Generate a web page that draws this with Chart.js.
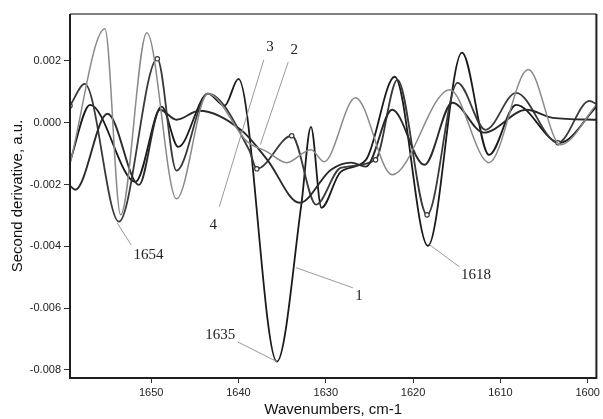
<!DOCTYPE html>
<html><head><meta charset="utf-8">
<script src="https://cdn.jsdelivr.net/npm/chart.js@4.4.0/dist/chart.umd.min.js"></script>
<style>html,body{margin:0;padding:0;background:#fff;}#wrap{width:603px;height:419px;}</style>
</head><body><div id="wrap"><canvas id="c" width="603" height="419"></canvas></div>
<script>
// Wavenumbers (cm-1) and second-derivative values
const wn1 = [1659.3, 1657.0, 1651.8, 1648.8, 1646.9, 1643.5, 1641.6, 1640.0, 1635.6, 1632.8, 1631.7, 1630.5, 1628.3, 1625.4, 1622.1, 1618.3, 1614.4, 1611.3, 1608.2, 1603.2, 1599.0];
const d1  = [-0.00126, 0.00058, -0.00191, 0.00052, -0.00078, 0.00094, 0.00055, 0.00142, -0.00773, -0.00265, -0.00013, -0.00275, -0.00159, -0.0012, 0.00149, -0.00398, 0.00227, -0.00104, 0.00058, -0.00065, 0.00052];

const wn2 = [1659.3, 1657.6, 1653.7, 1649.3, 1647.1, 1643.5, 1638.8, 1637.9, 1633.9, 1631.1, 1628.3, 1624.3, 1621.8, 1618.4, 1614.9, 1611.7, 1608.2, 1603.4, 1599.8, 1599.0];
const d2  = [0.00055, 0.00126, -0.0032, 0.00207, -0.00155, 0.00094, -0.00087, -0.00149, -0.00042, -0.00265, -0.00146, -0.0012, 0.00139, -0.00298, 0.00129, -0.00023, 0.00097, -0.00065, 0.00071, 0.00061];

const wn3 = [1659.3, 1655.3, 1653.5, 1650.5, 1647.1, 1643.5, 1639.0, 1636.7, 1634.5, 1631.7, 1630.2, 1626.6, 1622.4, 1615.8, 1611.3, 1606.8, 1603.1, 1599.0];
const d3  = [-0.00133, 0.00304, -0.00298, 0.00291, -0.00246, 0.00094, -0.00061, -0.00094, -0.00129, -0.00087, -0.00126, 0.00081, -0.00168, 0.00107, -0.00129, 0.00172, -0.00071, 0.00058];

const wn4 = [1659.3, 1658.7, 1655.0, 1651.4, 1649.0, 1647.1, 1644.5, 1639.6, 1636.7, 1633.0, 1629.4, 1627.1, 1625.4, 1622.4, 1618.7, 1615.5, 1611.9, 1607.0, 1604.0, 1599.0];
const d4  = [-0.00204, -0.00217, 0.00029, -0.00201, 0.00042, 0.0001, 0.00039, -0.00026, -0.0012, -0.00259, -0.00152, -0.00129, -0.00142, 0.00042, -0.00136, 0.00065, -0.00032, 0.00042, 0.00016, 0.0001];

// indices of curve 2 points that carry a small circle marker
const markers2 = [0, 3, 7, 8, 11, 13, 17];

const xTicks = [1650, 1640, 1630, 1620, 1610, 1600];
const yTicks = [0.002, 0.000, -0.002, -0.004, -0.006, -0.008];

// Callout labels: text, text anchor (wavenumber, value), leader line from/to
const callouts = [
  { text: '1654', at: [1650.3, -0.00427], from: [1652.3, -0.00395], to: [1653.9, -0.00324] },
  { text: '1635', at: [1642.1, -0.00686], from: [1640.1, -0.00709], to: [1635.6, -0.00773] },
  { text: '1',    at: [1626.2, -0.00560], from: [1626.9, -0.00534], to: [1633.4, -0.00469] },
  { text: '1618', at: [1612.8, -0.00492], from: [1614.7, -0.00466], to: [1618.1, -0.00395] },
  { text: '3',    at: [1636.4, 0.00246],  from: [1637.1, 0.00204],  to: [1642.2, -0.00272] },
  { text: '2',    at: [1633.6, 0.00236],  from: [1634.3, 0.00197],  to: [1637.5, -0.00071] },
  { text: '4',    at: [1642.9, -0.00330], from: null, to: null }
];

const pts = (xs, ys) => xs.map((x, i) => ({ x: x, y: ys[i] }));

const framePlugin = {
  id: 'frame',
  afterDatasetsDraw(chart) {
    const { ctx, chartArea: a } = chart;
    ctx.save();
    ctx.lineWidth = 2;
    ctx.strokeStyle = '#808080';
    ctx.beginPath(); ctx.moveTo(a.left, a.top); ctx.lineTo(a.right, a.top); ctx.stroke();
    ctx.strokeStyle = '#1e1e1e';
    ctx.beginPath();
    ctx.moveTo(a.right, a.top); ctx.lineTo(a.right, a.bottom);
    ctx.lineTo(a.left, a.bottom); ctx.lineTo(a.left, a.top);
    ctx.stroke();
    ctx.restore();
  }
};

const calloutPlugin = {
  id: 'callouts',
  afterDatasetsDraw(chart) {
    const { ctx } = chart;
    const sx = chart.scales.x, sy = chart.scales.y;
    ctx.save();
    ctx.strokeStyle = '#9a9a9a';
    ctx.lineWidth = 1;
    ctx.fillStyle = '#222';
    ctx.font = '15px "Liberation Serif", "DejaVu Serif", serif';
    ctx.textAlign = 'center';
    ctx.textBaseline = 'middle';
    callouts.forEach(c => {
      if (c.from) {
        ctx.beginPath();
        ctx.moveTo(sx.getPixelForValue(c.from[0]), sy.getPixelForValue(c.from[1]));
        ctx.lineTo(sx.getPixelForValue(c.to[0]), sy.getPixelForValue(c.to[1]));
        ctx.stroke();
      }
      ctx.fillText(c.text, sx.getPixelForValue(c.at[0]), sy.getPixelForValue(c.at[1]));
    });
    ctx.restore();
  }
};

const lineDs = (label, data, color, width, markerIdx) => ({
  label, data, borderColor: color, borderWidth: width,
  pointRadius: ctx => (markerIdx && markerIdx.includes(ctx.dataIndex)) ? 2.2 : 0,
  pointBorderColor: color, pointBackgroundColor: '#fff', pointBorderWidth: 1.2,
  fill: false, cubicInterpolationMode: 'monotone'
});

new Chart(document.getElementById('c'), {
  type: 'line',
  data: {
    datasets: [
      lineDs('3', pts(wn3, d3), '#8a8a8a', 1.5),
      lineDs('4', pts(wn4, d4), '#2a2a2a', 1.9),
      lineDs('2', pts(wn2, d2), '#3a3a3a', 1.8, markers2),
      lineDs('1', pts(wn1, d1), '#1a1a1a', 1.8)
    ]
  },
  options: {
    responsive: false,
    animation: false,
    devicePixelRatio: 1,
    layout: { padding: { top: 14, right: 1, left: 0, bottom: 0 } },
    plugins: { legend: { display: false }, tooltip: { enabled: false } },
    scales: {
      x: {
        type: 'linear', reverse: true, min: 1599, max: 1659.3,
        afterBuildTicks: ax => { ax.ticks = xTicks.map(v => ({ value: v })); },
        afterFit: ax => { ax.height = 41; },
        ticks: { color: '#222', font: { family: 'Liberation Sans, Arial, sans-serif', size: 11 }, padding: 3, callback: v => String(v) },
        grid: { drawOnChartArea: false, drawTicks: true, tickLength: 5, color: '#333' },
        border: { display: false },
        title: { display: true, text: 'Wavenumbers, cm-1', color: '#111', font: { family: 'Liberation Sans, Arial, sans-serif', size: 15 }, padding: { top: 0, bottom: 0 } }
      },
      y: {
        type: 'linear', min: -0.00826, max: 0.00352,
        afterBuildTicks: ax => { ax.ticks = yTicks.map(v => ({ value: v })); },
        afterFit: ax => { ax.width = 70; },
        ticks: { color: '#222', font: { family: 'Liberation Sans, Arial, sans-serif', size: 11 }, padding: 3, callback: v => v.toFixed(3) },
        grid: { drawOnChartArea: false, drawTicks: true, tickLength: 6, color: '#333' },
        border: { display: false },
        title: { display: true, text: 'Second derivative, a.u.', color: '#111', font: { family: 'Liberation Sans, Arial, sans-serif', size: 15 }, padding: { top: 9, bottom: 0 } }
      }
    }
  },
  plugins: [framePlugin, calloutPlugin]
});
</script></body></html>
